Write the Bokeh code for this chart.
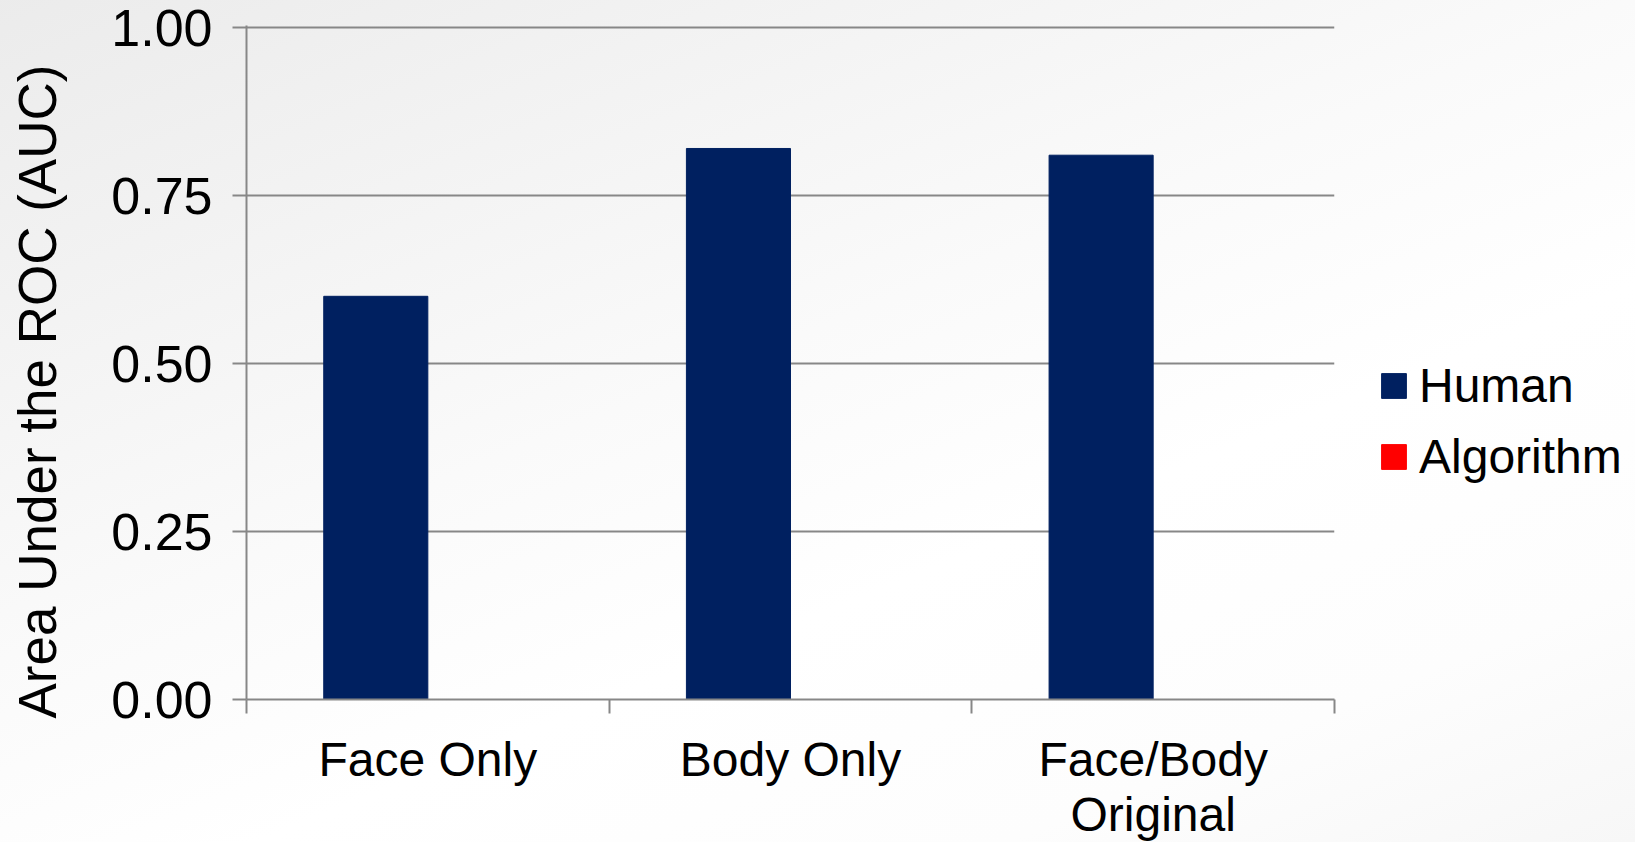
import numpy as np
from bokeh.plotting import figure
from bokeh.models import (ColumnDataSource, Range1d, FixedTicker, NumeralTickFormatter,
                          Legend, LegendItem, Title)
from bokeh.transform import dodge
from bokeh.embed import file_html
from bokeh.resources import INLINE

# --- data -------------------------------------------------------------
categories = ["Face Only", "Body Only", "Face/Body Original"]
tick_labels = ["Face Only", "Body Only", "Face/Body\nOriginal"]
human = [0.60, 0.82, 0.81]
algorithm = [None, None, None]          # no algorithm scores yet
y_ticks = [0.0, 0.25, 0.50, 0.75, 1.00]

FONT = "Liberation Sans"
GRID = "#878787"

# each category occupies one unit on the x axis, its centre at index + 0.5
centres = [i + 0.5 for i in range(len(categories))]
src = ColumnDataSource(dict(
    cat=categories,
    pos=centres,
    human=human,
    algorithm=np.array(algorithm, dtype=float),
))

p = figure(
    x_range=Range1d(0, len(categories)),
    y_range=Range1d(0, 1.003),            # a hair above 1 so the top grid line is drawn
    frame_width=1088, frame_height=674,
    min_border_left=200, min_border_right=300, min_border_top=25, min_border_bottom=143,
    output_backend="svg", toolbar_location=None,
)
p.outline_line_color = None
p.border_fill_color = None
p.background_fill_color = None
# the left title panel is wider than needed, pull the canvas back to the page edge
p.styles = {
    "background": "linear-gradient(to bottom right, #ebebeb 0%, #fafafa 40%, #ffffff 57%, #fdfdfd 75%, #f3f3f3 100%)",
    "margin-left": "-37px",
}

bar_w = 0.287
r_h = p.vbar(x=dodge("pos", -bar_w / 2), top="human", width=bar_w,
             source=src, fill_color="#002060", line_color="#002060", line_width=1)
r_a = p.vbar(x=dodge("pos", bar_w / 2), top="algorithm", width=bar_w,
             source=src, fill_color="#ff0000", line_color="#ff0000", line_width=1)

# y axis and grid
yax = p.yaxis[0]
yax.ticker = FixedTicker(ticks=y_ticks)
yax.formatter = NumeralTickFormatter(format="0.00")
yax.axis_line_color = GRID
yax.axis_line_width = 2
yax.major_tick_line_color = GRID
yax.major_tick_line_width = 2
yax.major_tick_in = 0
yax.major_tick_out = 14
yax.minor_tick_line_color = None
yax.major_label_text_font = FONT
yax.major_label_text_font_size = "52px"
yax.major_label_text_color = "black"
yax.major_label_standoff = 20

p.ygrid.ticker = FixedTicker(ticks=y_ticks)
p.ygrid.grid_line_color = GRID
p.ygrid.grid_line_width = 2
p.xgrid.visible = False

# category axis: labels at the centres, tick marks on the boundaries
xax = p.xaxis[0]
xax.ticker = FixedTicker(ticks=centres, minor_ticks=list(range(len(categories) + 1)))
xax.major_label_overrides = {c: lbl for c, lbl in zip(centres, tick_labels)}
xax.axis_line_color = GRID
xax.axis_line_width = 2
xax.major_tick_line_color = None
xax.major_tick_in = 0
xax.major_tick_out = 0
xax.minor_tick_line_color = GRID
xax.minor_tick_line_width = 2
xax.minor_tick_in = 0
xax.minor_tick_out = 14
xax.major_label_text_font = FONT
xax.major_label_text_font_size = "48px"
xax.major_label_text_line_height = 1.04
xax.major_label_text_color = "black"
xax.major_label_standoff = 19

# rotated axis title, starting just below the x axis line
p.add_layout(Title(
    text="Area Under the ROC (AUC)", align="left", offset=-19, standoff=84,
    text_font=FONT, text_font_size="53px", text_font_style="normal", text_color="black",
), "left")

legend = Legend(
    items=[LegendItem(label="Human", renderers=[r_h]),
           LegendItem(label="Algorithm", renderers=[r_a])],
    location=(44, 215),
    glyph_width=31, glyph_height=31, label_standoff=10, spacing=16,
    padding=0, margin=0, border_line_color=None, background_fill_alpha=0,
    label_text_font=FONT, label_text_font_size="48px", label_text_color="black",
)
p.add_layout(legend, "right")

open("out.html", "w").write(file_html(p, INLINE))
